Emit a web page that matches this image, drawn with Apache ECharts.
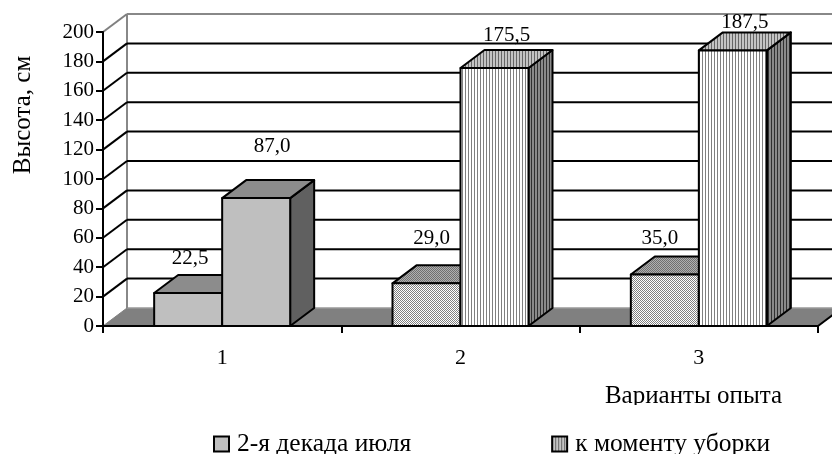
<!DOCTYPE html>
<html>
<head>
<meta charset="utf-8">
<style>html,body{margin:0;padding:0;background:#fff}#chart{width:832px;height:454px}</style>
<script src="https://cdn.jsdelivr.net/npm/echarts@6/dist/echarts.min.js"></script>
</head>
<body>
<div id="chart"></div>
<script>
var categories = ['1', '2', '3'];
var decadeValues = [22.5, 29.0, 35.0];
var harvestValues = [87.0, 175.5, 187.5];
var valueTicks = [0, 20, 40, 60, 80, 100, 120, 140, 160, 180, 200];

var FONT = '"Liberation Serif", serif';
var DX = 24, DY = -18;   // смещение задней стенки
var BAR_W = 68;

// ручные смещения подписей, как в исходной диаграмме
var decadeLabelShift = [[2, -34], [5, -45], [-5, -36]];
var harvestLabelShift = [[16, -52], [12, -33], [12, -28]];

function makePattern(draw, w, h) {
    var c = document.createElement('canvas');
    c.width = w; c.height = h;
    draw(c.getContext('2d'));
    return { image: c, repeat: 'repeat' };
}
function stripes(bg, fg) {
    return makePattern(function(ctx) {
        ctx.fillStyle = bg; ctx.fillRect(0, 0, 3, 3);
        ctx.fillStyle = fg; ctx.fillRect(0, 0, 1, 3);
    }, 3, 3);
}
function dots(bg, fg) {
    return makePattern(function(ctx) {
        ctx.fillStyle = bg; ctx.fillRect(0, 0, 2, 2);
        ctx.fillStyle = fg; ctx.fillRect(0, 0, 1, 1); ctx.fillRect(1, 1, 1, 1);
    }, 2, 2);
}

var solid = { front: '#bfbfbf', top: '#8c8c8c', side: '#606060' };
var dotted = { front: dots('#ffffff', '#808080'), top: dots('#b0b0b0', '#707070'), side: '#606060' };
var striped = { front: stripes('#ffffff', '#808080'), top: stripes('#c4c4c4', '#666666'), side: stripes('#8a8a8a', '#303030') };

function poly(points, fill) {
    return { type: 'polygon', shape: { points: points }, style: { fill: fill, stroke: '#000', lineWidth: 2, lineJoin: 'round' } };
}

function renderBar(skins, offset, shifts) {
    return function(params, api) {
        var i = api.value(0), v = api.value(1);
        var base = api.coord([i, 0]), top = api.coord([i, v]);
        var x0 = base[0] + offset, x1 = x0 + BAR_W, y0 = base[1], y1 = top[1];
        var skin = skins[i];
        return {
            type: 'group',
            children: [
                poly([[x1, y0], [x1, y1], [x1 + DX, y1 + DY], [x1 + DX, y0 + DY]], skin.side),
                poly([[x0, y1], [x1, y1], [x1 + DX, y1 + DY], [x0 + DX, y1 + DY]], skin.top),
                poly([[x0, y0], [x1, y0], [x1, y1], [x0, y1]], skin.front),
                {
                    type: 'text',
                    z2: 10,
                    style: {
                        x: (x0 + x1) / 2 + shifts[i][0], y: y1 + shifts[i][1],
                        text: v.toFixed(1).replace('.', ','),
                        font: '21px ' + FONT, fill: '#000', align: 'center', verticalAlign: 'middle'
                    }
                }
            ]
        };
    };
}

function renderWall(params, api) {
    var t = api.value(0);
    var g = params.coordSys;
    var y = api.coord([0, t])[1];
    var xl = g.x, xr = g.x + g.width;
    var children = [];
    if (t === 0) {
        children.push({ type: 'polygon', shape: { points: [[xl, y], [xr, y], [xr + DX, y + DY], [xl + DX, y + DY]] }, style: { fill: '#808080' } });
        children.push({ type: 'line', shape: { x1: xl + DX, y1: y + DY, x2: xr + DX, y2: y + DY }, style: { stroke: '#999', lineWidth: 1.5 } });
        children.push({ type: 'line', shape: { x1: xl + DX, y1: y + DY, x2: xl + DX, y2: g.y + DY }, style: { stroke: '#888', lineWidth: 2 } });
        children.push({ type: 'line', shape: { x1: xl, y1: y, x2: xl + DX, y2: y + DY }, style: { stroke: '#808080', lineWidth: 1 } });
        children.push({ type: 'line', shape: { x1: xr, y1: y, x2: xr + DX, y2: y + DY }, style: { stroke: '#000', lineWidth: 2 } });
    } else {
        var grey = t === 200;
        children.push({ type: 'line', shape: { x1: xl, y1: y, x2: xl + DX, y2: y + DY }, style: { stroke: grey ? '#808080' : '#000', lineWidth: 2 } });
        children.push({ type: 'line', shape: { x1: xl + DX, y1: y + DY, x2: xr + DX, y2: y + DY }, style: { stroke: grey ? '#888' : '#000', lineWidth: 2 } });
    }
    return { type: 'group', children: children };
}

var chart = echarts.init(document.getElementById('chart'));
chart.setOption({
    animation: false,
    backgroundColor: '#fff',
    textStyle: { fontFamily: FONT, color: '#000' },
    grid: { left: 103, right: 14, top: 32, bottom: 128, outerBoundsMode: 'none' },
    legend: {
        left: 213, top: 431, itemWidth: 15, itemHeight: 15, itemGap: 140, padding: 0,
        icon: 'rect',
        textStyle: { fontFamily: FONT, fontSize: 25.5, color: '#000', padding: [0, 0, 0, 3] },
        data: ['2-я декада июля', 'к моменту уборки']
    },
    // нижний край подписи в оригинале обрезан
    graphic: [{ type: 'rect', z: 100, shape: { x: 590, y: 405, width: 200, height: 12 }, style: { fill: '#fff' } }],
    xAxis: {
        type: 'category', data: categories,
        name: 'Варианты опыта', nameLocation: 'end', nameGap: 0,
        nameTextStyle: { fontFamily: FONT, fontSize: 25, color: '#000', align: 'right', verticalAlign: 'top', padding: [58, 36, 0, 0] },
        axisLine: { onZero: false, lineStyle: { color: '#000', width: 2 } },
        axisTick: { show: true, alignWithLabel: false, length: 7, lineStyle: { color: '#000', width: 2 } },
        axisLabel: { fontFamily: FONT, fontSize: 22, color: '#000', margin: 21 },
        z: 5
    },
    yAxis: {
        type: 'value', min: 0, max: 200, interval: 20,
        name: 'Высота, см', nameLocation: 'middle', nameGap: 67,
        nameTextStyle: { fontFamily: FONT, fontSize: 25, color: '#000', padding: [0, 0, 0, 128] },
        axisLine: { show: true, lineStyle: { color: '#000', width: 2 } },
        axisTick: { show: true, length: 7, lineStyle: { color: '#000', width: 2 } },
        axisLabel: { fontFamily: FONT, fontSize: 21, color: '#000', margin: 9 },
        splitLine: { show: false },
        z: 5
    },
    series: [
        {
            name: 'стенка', type: 'custom', silent: true, clip: false, z: 1,
            coordinateSystem: 'cartesian2d',
            encode: { y: 0 },
            data: valueTicks.map(function(t) { return [t]; }),
            renderItem: renderWall
        },
        {
            name: '2-я декада июля', type: 'custom', clip: false, z: 2,
            encode: { x: 0, y: 1 },
            itemStyle: { color: '#bfbfbf', borderColor: '#000', borderWidth: 2 },
            data: decadeValues.map(function(v, i) { return [i, v]; }),
            renderItem: renderBar([solid, dotted, dotted], -BAR_W, decadeLabelShift)
        },
        {
            name: 'к моменту уборки', type: 'custom', clip: false, z: 3,
            encode: { x: 0, y: 1 },
            itemStyle: { color: stripes('#c4c4c4', '#666666'), borderColor: '#000', borderWidth: 2 },
            data: harvestValues.map(function(v, i) { return [i, v]; }),
            renderItem: renderBar([solid, striped, striped], 0, harvestLabelShift)
        }
    ]
});
</script>
</body>
</html>
